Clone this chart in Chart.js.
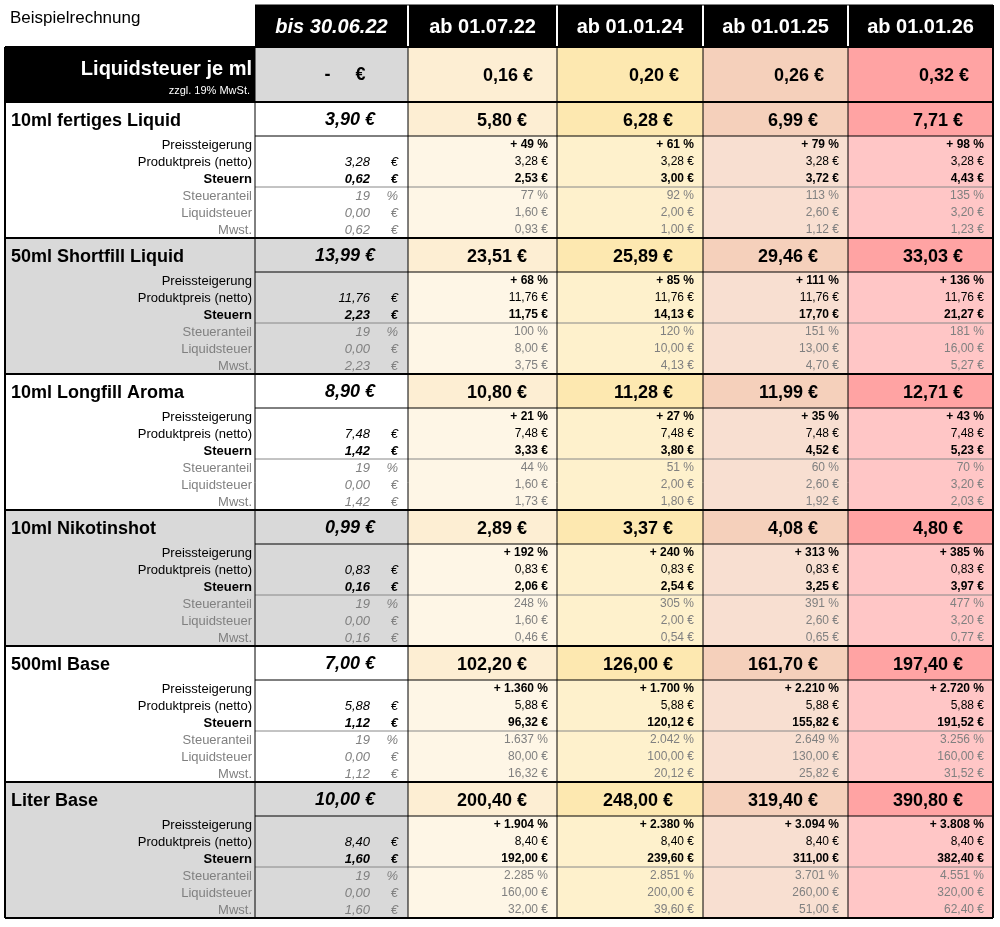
<!DOCTYPE html><html><head><meta charset="utf-8">
<script src="https://cdn.jsdelivr.net/npm/chart.js@4"></script>
<style>body{margin:0;background:#fff}#w{width:1000px;height:927px}</style></head><body><div id="w"><canvas id="c"></canvas></div>
<script>
const periods=['bis 30.06.22','ab 01.07.22','ab 01.01.24','ab 01.01.25','ab 01.01.26'];
const taxPerMl=['0,16 €','0,20 €','0,26 €','0,32 €'];
const products=['10ml fertiges Liquid','50ml Shortfill Liquid','10ml Longfill Aroma','10ml Nikotinshot','500ml Base','Liter Base'];
const basePrice=['3,90 €','13,99 €','8,90 €','0,99 €','7,00 €','10,00 €'];
const netto=['3,28','11,76','7,48','0,83','5,88','8,40'];
const baseTax=['0,62','2,23','1,42','0,16','1,12','1,60'];
const prices=[['5,80','6,28','6,99','7,71'],['23,51','25,89','29,46','33,03'],['10,80','11,28','11,99','12,71'],['2,89','3,37','4,08','4,80'],['102,20','126,00','161,70','197,40'],['200,40','248,00','319,40','390,80']];
const increase=[['49','61','79','98'],['68','85','111','136'],['21','27','35','43'],['192','240','313','385'],['1.360','1.700','2.210','2.720'],['1.904','2.380','3.094','3.808']];
const steuern=[['2,53','3,00','3,72','4,43'],['11,75','14,13','17,70','21,27'],['3,33','3,80','4,52','5,23'],['2,06','2,54','3,25','3,97'],['96,32','120,12','155,82','191,52'],['192,00','239,60','311,00','382,40']];
const anteil=[['77','92','113','135'],['100','120','151','181'],['44','51','60','70'],['248','305','391','477'],['1.637','2.042','2.649','3.256'],['2.285','2.851','3.701','4.551']];
const liqTax=[['1,60','2,00','2,60','3,20'],['8,00','10,00','13,00','16,00'],['1,60','2,00','2,60','3,20'],['1,60','2,00','2,60','3,20'],['80,00','100,00','130,00','160,00'],['160,00','200,00','260,00','320,00']];
const mwst=[['0,93','1,00','1,12','1,23'],['3,75','4,13','4,70','5,27'],['1,73','1,80','1,92','2,03'],['0,46','0,54','0,65','0,77'],['16,32','20,12','25,82','31,52'],['32,00','39,60','51,00','62,40']];
const subLabels=['Preissteigerung','Produktpreis (netto)','Steuern','Steueranteil','Liquidsteuer','Mwst.'];
const colEdges=[5,255,408,557,703,848,993];
const colTitle=['#fdeed3','#fde8b0','#f5d0bb','#ffa3a3'];
const colSub=['#fef6e6','#fef1cc','#f8dfd1','#ffc6c6'];
const FONT='"Liberation Sans", Arial, sans-serif';

const tablePlugin={id:'table',afterDraw(ch){
 const c=ch.ctx,X=v=>ch.scales.x.getPixelForValue(v),Y=v=>ch.scales.y.getPixelForValue(v);
 const rect=(x0,y0,x1,y1,f)=>{c.fillStyle=f;c.fillRect(X(x0),Y(y0),X(x1)-X(x0),Y(y1)-Y(y0));};
 const line=(x0,y0,x1,y1,s,w)=>{c.strokeStyle=s;c.lineWidth=w;c.beginPath();c.moveTo(X(x0),Y(y0));c.lineTo(X(x1),Y(y1));c.stroke();};
 const txt=(t,x,y,f,col,al)=>{c.font=f;c.fillStyle=col;c.textAlign=al||'left';c.textBaseline='middle';c.fillText(t,X(x),Y(y));};
 c.save();
 txt('Beispielrechnung',10,18,'17px '+FONT,'#000');
 rect(255,5,993,47,'#000');
 for(let i=0;i<5;i++){const cx=(colEdges[i+1]+colEdges[i+2])/2;
  txt(periods[i],cx,27,(i==0?'italic bold ':'bold ')+'20px '+FONT,'#fff','center');}
 for(let i=2;i<6;i++)line(colEdges[i],5,colEdges[i],47,'#fff',2);
 rect(5,47,255,102,'#000');
 txt('Liquidsteuer je ml',252,69,'bold 20px '+FONT,'#fff','right');
 txt('zzgl. 19% MwSt.',250,91,'11px '+FONT,'#fff','right');
 rect(255,47,408,102,'#d9d9d9');
 txt('-     €',345,75,'bold 18px '+FONT,'#000','center');
 for(let i=0;i<4;i++){rect(colEdges[i+2],47,colEdges[i+3],102,colTitle[i]);
  txt(taxPerMl[i],colEdges[i+3]-24,76,'bold 18px '+FONT,'#000','right');}
 for(let p=0;p<6;p++){
  const y0=102+p*136, gray=p%2==1;
  rect(5,y0,408,y0+136,gray?'#d9d9d9':'#fff');
  for(let i=0;i<4;i++){rect(colEdges[i+2],y0,colEdges[i+3],y0+34,colTitle[i]);rect(colEdges[i+2],y0+34,colEdges[i+3],y0+136,colSub[i]);}
  txt(products[p],11,y0+19,'bold 18px '+FONT,'#000');
  txt(basePrice[p],375,y0+18,'italic bold 18px '+FONT,'#000','right');
  for(let i=0;i<4;i++)txt(prices[p][i]+' €',colEdges[i+3]-30,y0+19,'bold 18px '+FONT,'#000','right');
  const rows=[
   [null,increase[p].map(v=>'+ '+v+' %'),true,false],
   [netto[p],prices[p].map(()=>netto[p]+' €'),false,false],
   [baseTax[p],steuern[p].map(v=>v+' €'),true,true],
   ['19',anteil[p].map(v=>v+' %'),false,false],
   ['0,00',liqTax[p].map(v=>v+' €'),false,false],
   [baseTax[p],mwst[p].map(v=>v+' €'),false,false]];
  rows.forEach((r,k)=>{const yc=y0+34+k*17+9, col=k<3?'#000':'#808080', b=r[2]?'bold ':'', lb=r[3]?'bold ':'';
   txt(subLabels[k],252,yc,lb+'13px '+FONT,col,'right');
   if(r[0]!==null){txt(r[0],370,yc,'italic '+lb+'13px '+FONT,col,'right');txt(k==3?'%':'€',398,yc,'italic '+lb+'13px '+FONT,col,'right');}
   for(let i=0;i<4;i++)txt(r[1][i],colEdges[i+3]-9,yc,b+'12px '+FONT,col,'right');});
  line(255,y0+34,993,y0+34,'#000',1);
  line(255,y0+85,993,y0+85,'#888',1);
  line(5,y0,993,y0,'#000',2);
 }
 for(let i=1;i<6;i++)line(colEdges[i],47,colEdges[i],918,'#000',1);
 line(5,47,993,47,'#000',2);line(5,918,993,918,'#000',2);
 line(5,47,5,918,'#000',2);line(993,5,993,918,'#000',2);line(255,5,993,5,'#000',1);
 c.restore();}};

new Chart(document.getElementById('c'),{type:'scatter',data:{datasets:[{data:[]}]},
 options:{responsive:true,maintainAspectRatio:false,animation:false,layout:{padding:0},
  plugins:{legend:{display:false},tooltip:{enabled:false}},
  scales:{x:{type:'linear',min:0,max:1000,display:false},y:{type:'linear',min:0,max:927,reverse:true,display:false}}},
 plugins:[tablePlugin]});
</script></body></html>
